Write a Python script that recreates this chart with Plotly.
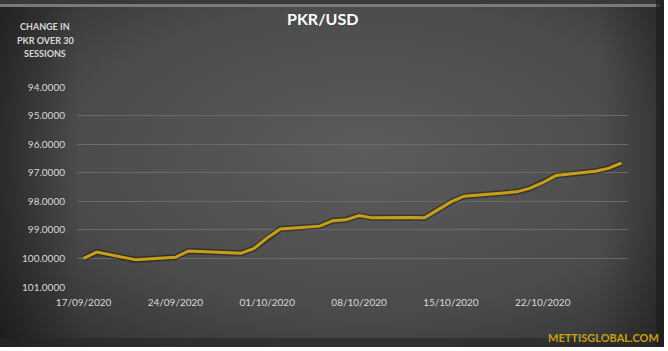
import base64
import plotly.graph_objects as go

# ---- data ----
dates = [
    "2020-09-17", "2020-09-18", "2020-09-21", "2020-09-22", "2020-09-23",
    "2020-09-24", "2020-09-25", "2020-09-28", "2020-09-29", "2020-09-30",
    "2020-10-01", "2020-10-02", "2020-10-05", "2020-10-06", "2020-10-07",
    "2020-10-08", "2020-10-09", "2020-10-12", "2020-10-13", "2020-10-14",
    "2020-10-15", "2020-10-16", "2020-10-19", "2020-10-20", "2020-10-21",
    "2020-10-22", "2020-10-23", "2020-10-26", "2020-10-27", "2020-10-28",
]
pkr_usd = [
    100.00, 99.78, 100.05, 100.02, 99.99,
    99.96, 99.74, 99.80, 99.82, 99.65,
    99.28, 98.97, 98.87, 98.68, 98.65,
    98.50, 98.58, 98.57, 98.58, 98.30,
    98.02, 97.82, 97.72, 97.67, 97.55,
    97.35, 97.10, 96.95, 96.85, 96.66,
]
x_ticks = ["2020-09-17", "2020-09-24", "2020-10-01", "2020-10-08", "2020-10-15", "2020-10-22"]
x_tick_text = ["17/09/2020", "24/09/2020", "01/10/2020", "08/10/2020", "15/10/2020", "22/10/2020"]
y_ticks = [94, 95, 96, 97, 98, 99, 100, 101]
corner_lines = ["CHANGE IN", "PKR OVER 30", "SESSIONS"]

W, H = 668, 351
L, R, T, B = 77, 40, 87, 64

svg = f'''<svg xmlns="http://www.w3.org/2000/svg" width="{W}" height="{H}" viewBox="0 0 {W} {H}">
<defs>
<radialGradient id="g" cx="0.55" cy="0.45" r="0.75">
<stop offset="0" stop-color="#5c5c5c"/>
<stop offset="0.6" stop-color="#4b4b4b"/>
<stop offset="1" stop-color="#2e2e2e"/>
</radialGradient>
<linearGradient id="lg" x1="0" y1="0" x2="1" y2="0">
<stop offset="0" stop-color="#000" stop-opacity="0.35"/>
<stop offset="0.12" stop-color="#000" stop-opacity="0.0"/>
<stop offset="0.9" stop-color="#000" stop-opacity="0.0"/>
<stop offset="1" stop-color="#000" stop-opacity="0.3"/>
</linearGradient>
</defs>
<rect x="0" y="0" width="{W}" height="{H}" fill="#ffffff"/>
<rect x="0" y="0" width="664" height="347" fill="url(#g)"/>
<rect x="0" y="0" width="664" height="347" fill="url(#lg)"/>
<rect x="0" y="0" width="664" height="4" fill="#3a3a3a"/>
<rect x="0" y="4" width="660" height="3" fill="#7a7a7a"/>
<rect x="0" y="338" width="664" height="9" fill="#262626" opacity="0.6"/>
<rect x="656" y="0" width="8" height="347" fill="#1e1e1e" opacity="0.7"/>
</svg>'''
src = "data:image/svg+xml;base64," + base64.b64encode(svg.encode()).decode()

pw, ph = W - L - R, H - T - B
FONT = "Lato, Open Sans, sans-serif"

fig = go.Figure()
fig.add_trace(go.Scatter(x=dates, y=pkr_usd, mode="lines",
                         line=dict(color="rgba(0,0,0,0.35)", width=6),
                         hoverinfo="skip", showlegend=False))
fig.add_trace(go.Scatter(x=dates, y=pkr_usd, mode="lines",
                         line=dict(color="#C9A015", width=3),
                         showlegend=False))

fig.add_layout_image(dict(source=src, xref="paper", yref="paper",
                          x=-L / pw, y=1 + T / ph, sizex=W / pw, sizey=H / ph,
                          xanchor="left", yanchor="top", sizing="stretch",
                          layer="below"))

annotations = [
    dict(text="<b>PKR/USD</b>", xref="paper", yref="paper",
         x=(322 - L) / pw, y=1 + (T - 18) / ph, xanchor="center", yanchor="middle",
         showarrow=False, font=dict(size=16, color="white", family=FONT)),
    dict(text="<b>METTISGLOBAL.COM</b>", xref="paper", yref="paper",
         x=(661 - L) / pw, y=-(337 - T - ph) / ph, xanchor="right", yanchor="middle",
         showarrow=False, font=dict(size=11, color="#C9A015", family=FONT)),
]
for i, line in enumerate(corner_lines):
    annotations.append(dict(text=f"<b>{line}</b>", xref="paper", yref="paper",
                            x=(45 - L) / pw, y=1 + (T - (27 + 13 * i)) / ph,
                            xanchor="center", yanchor="middle", showarrow=False,
                            font=dict(size=9, color="#d9d9d9", family=FONT)))

fig.update_layout(
    width=W, height=H,
    margin=dict(l=L, r=R, t=T, b=B),
    paper_bgcolor="white",
    plot_bgcolor="rgba(0,0,0,0)",
    font=dict(family=FONT, color="#d9d9d9", size=10),
    xaxis=dict(type="date", range=["2020-09-16 12:00", "2020-10-28 12:00"],
               tickvals=x_ticks, ticktext=x_tick_text, showgrid=False,
               zeroline=False, showline=False, ticks="outside", ticklen=6,
               tickcolor="rgba(0,0,0,0)", tickfont=dict(size=10, color="#d9d9d9")),
    yaxis=dict(range=[101, 94], tickvals=y_ticks, tickformat=".4f",
               showgrid=True, gridcolor="#6a6a6a", gridwidth=1, zeroline=False,
               showline=False, ticks="", ticklabelstandoff=11,
               tickfont=dict(size=10, color="#d9d9d9")),
    annotations=annotations,
)

fig.write_html("out.html")
